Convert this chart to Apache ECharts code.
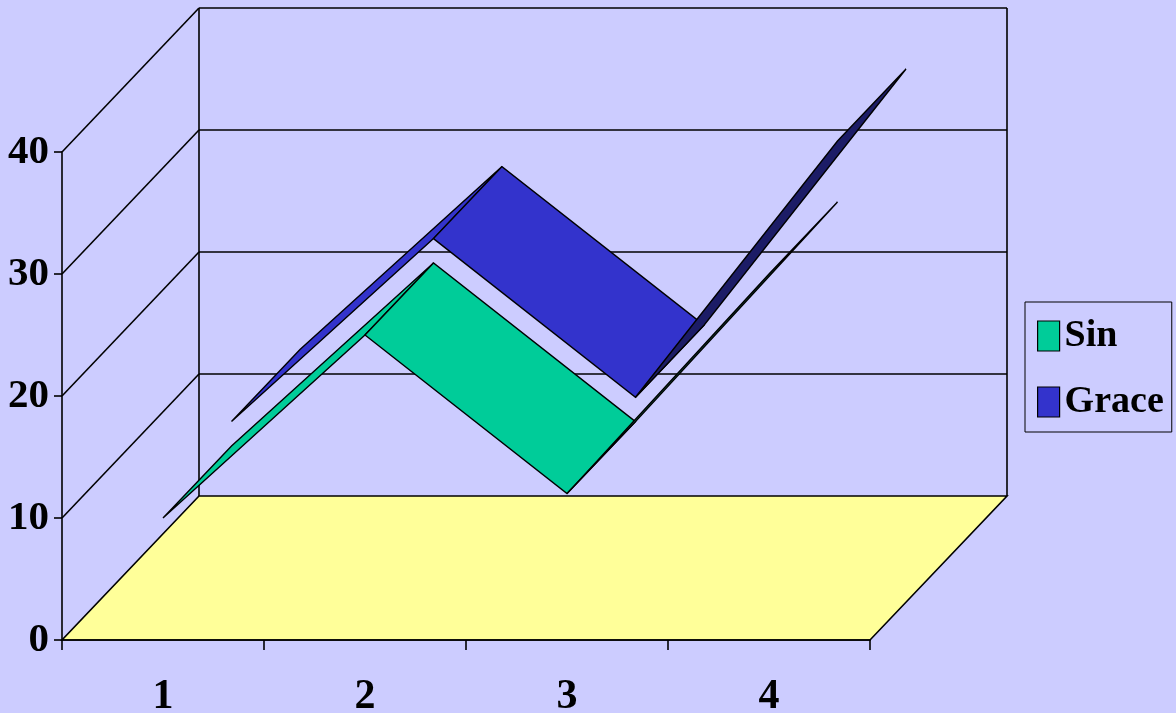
<!DOCTYPE html>
<html>
<head>
<meta charset="utf-8">
<script src="https://cdn.jsdelivr.net/npm/echarts@6/dist/echarts.min.js"></script>
<style>
  html, body { margin: 0; padding: 0; background: #ccccff; }
  #chart { width: 1176px; height: 713px; }
</style>
</head>
<body>
<div id="chart"></div>
<script>
// 3D ribbon chart, drawn with custom series on a plain cartesian grid
var categories = ['1', '2', '3', '4'];
var sinValues = [10, 25, 12, 30];
var graceValues = [12, 27, 14, 35];
var yTicks = [0, 10, 20, 30, 40];

// screen offset of the full chart depth (front plane -> back plane)
var DEPTH_X = 137, DEPTH_Y = -144;
var FONT = '"Liberation Serif", "Times New Roman", serif';

function segments(values) {
  var out = [];
  for (var i = 0; i < values.length - 1; i++) out.push([i, values[i], values[i + 1]]);
  return out;
}

function line(x1, y1, x2, y2) {
  return {
    type: 'line',
    shape: { x1: x1, y1: y1, x2: x2, y2: y2 },
    style: { stroke: '#000', lineWidth: 1.6 }
  };
}

// walls, floor and back gridlines, one data item per y tick
function wallItem(params, api) {
  var v = api.value(1);
  var bw = api.size([1, 0])[0];
  var pl = api.coord([0, v]);
  var pr = api.coord([categories.length - 1, v]);
  var lx = pl[0] - bw / 2, rx = pr[0] + bw / 2, y = pl[1];
  var children = [];
  if (v === yTicks[0]) {
    var top = api.coord([0, yTicks[yTicks.length - 1]])[1];
    children.push({
      type: 'polygon',
      shape: { points: [[lx, y], [rx, y], [rx + DEPTH_X, y + DEPTH_Y], [lx + DEPTH_X, y + DEPTH_Y]] },
      style: { fill: '#ffff99', stroke: '#000', lineWidth: 1.6 }
    });
    children.push(line(lx + DEPTH_X, y + DEPTH_Y, lx + DEPTH_X, top + DEPTH_Y));
    children.push(line(rx + DEPTH_X, y + DEPTH_Y, rx + DEPTH_X, top + DEPTH_Y));
  } else {
    children.push(line(lx, y, lx + DEPTH_X, y + DEPTH_Y));
    children.push(line(lx + DEPTH_X, y + DEPTH_Y, rx + DEPTH_X, y + DEPTH_Y));
  }
  return { type: 'group', children: children };
}

// one ribbon segment between two categories, at depth d0..d1 (0 = front, 1 = back)
function ribbonItem(color, dark, d0, d1) {
  return function(params, api) {
    var a = api.coord([api.value(0), api.value(1)]);
    var b = api.coord([api.value(0) + 1, api.value(2)]);
    var ox0 = DEPTH_X * d0, oy0 = DEPTH_Y * d0;
    var ox1 = DEPTH_X * d1, oy1 = DEPTH_Y * d1;
    var pts = [
      [a[0] + ox0, a[1] + oy0],
      [b[0] + ox0, b[1] + oy0],
      [b[0] + ox1, b[1] + oy1],
      [a[0] + ox1, a[1] + oy1]
    ];
    // seen from below when the segment rises steeper than the depth direction
    var cross = (b[0] - a[0]) * DEPTH_Y - (b[1] - a[1]) * DEPTH_X;
    return {
      type: 'polygon',
      shape: { points: pts },
      style: { fill: cross > 0 ? dark : color, stroke: '#000', lineWidth: 1.4 }
    };
  };
}

var chart = echarts.init(document.getElementById('chart'), null, { renderer: 'canvas' });
chart.setOption({
  animation: false,
  backgroundColor: '#ccccff',
  grid: { left: 62, top: 152, width: 808, height: 488, outerBoundsMode: 'none', containLabel: false },
  legend: {
    orient: 'vertical',
    left: 1025,
    top: 302,
    data: ['Sin', 'Grace'],
    padding: [15, 8, 11, 12],
    itemGap: 28,
    itemWidth: 22,
    itemHeight: 30,
    itemTextGap: 10,
    borderColor: '#000',
    borderWidth: 1,
    borderRadius: 0,
    icon: 'rect',
    itemStyle: { borderColor: '#000', borderWidth: 1.2 },
    textStyle: { fontFamily: FONT, fontWeight: 'bold', fontSize: 38, color: '#000' }
  },
  xAxis: {
    type: 'category',
    data: categories,
    boundaryGap: true,
    z: 5,
    axisLine: { show: true, lineStyle: { color: '#000', width: 1.6 } },
    axisTick: { show: true, length: 10, lineStyle: { color: '#000', width: 1.6 } },
    axisLabel: { margin: 36, fontFamily: FONT, fontWeight: 'bold', fontSize: 42, color: '#000' },
    splitLine: { show: false }
  },
  yAxis: {
    type: 'value',
    min: 0,
    max: 40,
    interval: 10,
    z: 5,
    axisLine: { show: true, lineStyle: { color: '#000', width: 1.6 } },
    axisTick: { show: true, length: 8, lineStyle: { color: '#000', width: 1.6 } },
    axisLabel: { margin: 13, fontFamily: FONT, fontWeight: 'bold', fontSize: 41, color: '#000' },
    splitLine: { show: false }
  },
  series: [
    {
      name: 'walls',
      type: 'custom',
      renderItem: wallItem,
      encode: { x: 0, y: 1 },
      data: yTicks.map(function(v) { return [0, v]; }),
      silent: true,
      z: 1
    },
    {
      name: 'Grace',
      type: 'custom',
      renderItem: ribbonItem('#3333cc', '#1c1c66', 0.5, 1.0),
      encode: { x: 0, y: [1, 2] },
      data: segments(graceValues),
      itemStyle: { color: '#3333cc' },
      z: 2
    },
    {
      name: 'Sin',
      type: 'custom',
      renderItem: ribbonItem('#00cc99', '#0d5a45', 0.0, 0.5),
      encode: { x: 0, y: [1, 2] },
      data: segments(sinValues),
      itemStyle: { color: '#00cc99' },
      z: 3
    }
  ]
});
window.addEventListener('resize', function() { chart.resize(); });
</script>
</body>
</html>
